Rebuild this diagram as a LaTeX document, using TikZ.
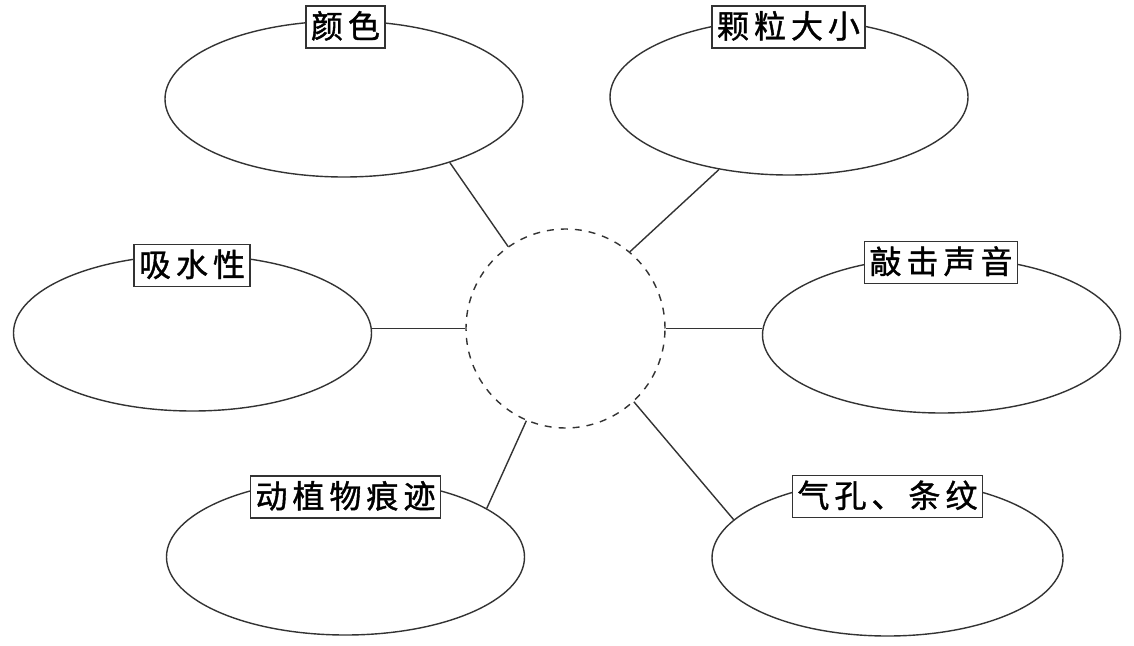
\documentclass[tikz,border=0pt]{standalone}
\usepackage{fontspec}
\newfontfamily\cjk[FakeBold=1.2]{Noto Sans CJK SC}
\usetikzlibrary{shapes.geometric}
\definecolor{ink}{HTML}{333333}
\tikzset{
  oval/.style={draw=ink, line width=1.4pt, ellipse, minimum width=358pt, minimum height=156pt, inner sep=0pt},
  hub/.style={draw=ink, line width=1.4pt, circle, minimum size=199pt, inner sep=0pt, dash pattern=on 7pt off 7pt},
  tag/.style={draw=ink, line width=1.1pt, fill=white, font=\cjk\fontsize{32pt}{32pt}\selectfont, text height=26pt, text depth=4pt, inner xsep=5pt, inner ysep=6pt},
  link/.style={draw=ink, line width=1.4pt}
}
\newcommand\gp{\hspace{5pt}}
\begin{document}
\begin{tikzpicture}[x=1pt,y=-1pt]
\useasboundingbox[fill=white] (0,0) rectangle (1134,645);
\node[hub] (c) at (565.5,328.5) {};
\node[oval] (A) at (344,99) {};
\node[oval] (B) at (789,97) {};
\node[oval] (C) at (192.5,333) {};
\node[oval] (D) at (941.5,335) {};
\node[oval] (E) at (345.5,557) {};
\node[oval, minimum width=351pt] (F) at (887.5,558) {};
\node[tag] (tA) at (345.5,27) {颜\gp 色};
\node[tag] (tB) at (788.5,27) {颗\gp 粒\gp 大\gp 小};
\node[tag] (tC) at (192,265.5) {吸\gp 水\gp 性};
\node[tag] (tD) at (941,262.5) {敲\gp 击\gp 声\gp 音};
\node[tag] (tE) at (345.5,497) {动\gp 植\gp 物\gp 痕\gp 迹};
\node[tag] (tF) at (887.5,496.5) {气\gp 孔\gp 、\gp 条\gp 纹};
\draw[link] (c.125.5) -- (A.329);
\draw[link] (c.50.2) -- (B.226.6);
\draw[link] (c.west) -- (c.west -| C.east);
\draw[link] (c.east) -- (c.east -| D.west);
\draw[link] (c.247.7) -- (E.19.4);
\draw[link] (c.313) -- (F.166.2);
\end{tikzpicture}
\end{document}
